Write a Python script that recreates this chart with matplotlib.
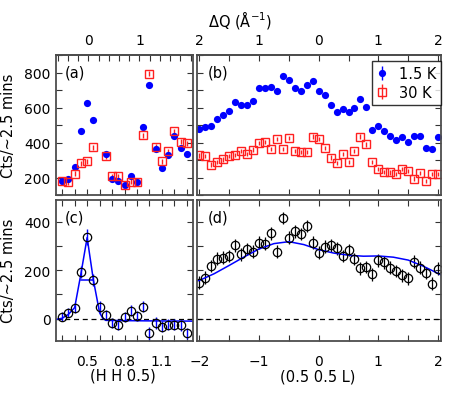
import numpy as np
import matplotlib
matplotlib.use('Agg')
import matplotlib.pyplot as plt
from matplotlib.ticker import MultipleLocator

plt.rcParams['font.family'] = 'DejaVu Sans'
plt.rcParams['font.size'] = 10

# (H H 0.5) scans, panel (a): 1.5 K and 30 K counts
h_a = [0.30, 0.35, 0.40, 0.45, 0.50, 0.55, 0.65, 0.70, 0.75, 0.80,
       0.85, 0.90, 0.95, 1.00, 1.05, 1.10, 1.15, 1.20, 1.25, 1.30]
cold_a = [179, 193, 259, 465, 627, 530, 335, 189, 179, 160,
          208, 175, 490, 729, 364, 255, 326, 440, 370, 335]
warm_a = [179, 173, 221, 282, 293, 373, 322, 208, 206, 160,
          177, 174, 442, 794, 377, 293, 350, 465, 404, 396]
err_a = 14

# panel (c): difference 1.5 K - 30 K
h_c = [0.30, 0.35, 0.40, 0.45, 0.50, 0.55, 0.60, 0.65, 0.70, 0.75, 0.80,
       0.85, 0.90, 0.95, 1.00, 1.05, 1.10, 1.15, 1.20, 1.25, 1.30]
diff_c = [8, 25, 44, 192, 338, 161, 47, 17, -17, -28, 8,
          33, 11, 50, -61, -19, -33, -25, -25, -28, -61]
err_c = [18, 20, 20, 26, 33, 24, 26, 20, 20, 20, 20,
         22, 20, 24, 26, 24, 22, 22, 22, 22, 24]
fit_h = [0.25, 0.30, 0.35, 0.40, 0.45, 0.50, 0.55, 0.60, 0.625, 0.65, 0.80, 1.00, 1.35]
fit_c = [-3, 2, 18, 46, 185, 335, 160, 25, 2, -7, -8, -9, -10]
fwhm_h = [0.45, 0.55]
fwhm_y = [158, 158]

# (0.5 0.5 L) scans, panels (b) and (d)
l_b = [-2.0, -1.9, -1.8, -1.7, -1.6, -1.5, -1.4, -1.3, -1.2, -1.1, -1.0,
       -0.9, -0.8, -0.7, -0.6, -0.5, -0.4, -0.3, -0.2, -0.1, 0.0,
       0.1, 0.2, 0.3, 0.4, 0.5, 0.6, 0.7, 0.8, 0.9, 1.0,
       1.1, 1.2, 1.3, 1.4, 1.5, 1.6, 1.7, 1.8, 1.9, 2.0]
cold_b = [480, 490, 493, 537, 556, 579, 630, 617, 617, 636, 710,
          714, 718, 697, 779, 760, 712, 697, 731, 750, 697,
          670, 617, 575, 594, 575, 598, 646, 604, 474, 493,
          465, 440, 417, 430, 404, 436, 440, 370, 364, 430]
warm_b = [326, 322, 274, 290, 303, 322, 328, 352, 334, 360, 398,
          404, 364, 421, 362, 427, 350, 347, 347, 434, 420,
          370, 314, 285, 333, 290, 350, 434, 389, 290, 248,
          233, 229, 221, 250, 236, 194, 228, 182, 221, 222]
err_b = 12
diff_d = [149, 170, 218, 248, 252, 259, 303, 266, 287, 277, 314,
          310, 352, 277, 415, 335, 360, 349, 383, 314, 273,
          297, 303, 290, 259, 284, 246, 208, 214, 183, 241,
          232, 211, 197, 179, 167, 236, 211, 188, 145, 207]
err_d = 26
fit_l = [-2.05, -2.0, -1.75, -1.5, -1.25, -1.0, -0.75, -0.5, -0.25, 0.0,
         0.25, 0.5, 0.75, 1.0, 1.25, 1.5, 1.75, 2.0, 2.05]
fit_d = [155, 158, 186, 220, 255, 288, 310, 318, 306, 285,
         271, 262, 258, 259, 254, 242, 217, 187, 181]

W, HT = 469.0, 402.0
fig = plt.figure(figsize=(W / 100, HT / 100), dpi=100)


def box(x0, y0, x1, y1):
    return [x0 / W, 1 - y1 / HT, (x1 - x0) / W, (y1 - y0) / HT]


ax_a = fig.add_axes(box(56, 56, 193, 196))
ax_b = fig.add_axes(box(197, 56, 441, 196))
ax_c = fig.add_axes(box(56, 201, 193, 341.5))
ax_d = fig.add_axes(box(197, 201, 441, 341.5))


def style(ax, top=True):
    for s in ax.spines.values():
        s.set_linewidth(1.3)
        s.set_color('0.3')
    ax.tick_params(which='both', direction='in', top=top, right=True,
                   color='0.2', width=0.8, length=4)
    ax.tick_params(axis='y', pad=3.8)
    ax.tick_params(axis='x', pad=9.5)


blue = '#0000ff'
red = '#ff2020'

# panel (a)
ax_a.errorbar(h_a, cold_a, yerr=err_a, fmt='o', color=blue, ms=5.2, mew=0,
              elinewidth=1, capsize=0)
ax_a.errorbar(h_a, warm_a, yerr=err_a, fmt='s', color=red, mfc='none', ms=6,
              mew=1, elinewidth=1, capsize=0)
# panel (b)
ax_b.errorbar(l_b, cold_b, yerr=err_b, fmt='o', color=blue, ms=5.2, mew=0,
              elinewidth=1, capsize=0, label='1.5 K')
ax_b.errorbar(l_b, warm_b, yerr=err_b, fmt='s', color=red, mfc='none', ms=6,
              mew=1, elinewidth=1, capsize=0, label='30 K')
# panel (c)
ax_c.axhline(0, color='k', lw=0.9, ls=(0, (4, 3)))
ax_c.errorbar(h_c, diff_c, yerr=err_c, fmt='none', ecolor=blue, elinewidth=1, capsize=0)
ax_c.plot(fit_h, fit_c, color=blue, lw=1.1)
ax_c.plot(fwhm_h, fwhm_y, color=blue, lw=1.1)
ax_c.plot(h_c, diff_c, 'o', mfc='none', mec='k', ms=6, mew=0.9)
# panel (d)
ax_d.axhline(0, color='k', lw=0.9, ls=(0, (4, 3)))
ax_d.errorbar(l_b, diff_d, yerr=err_d, fmt='o', color='k', mfc='none', ms=6,
              mew=0.9, elinewidth=0.9, capsize=0)
ax_d.plot(fit_l, fit_d, color=blue, lw=1.1)

for ax in (ax_a, ax_c):
    ax.set_xlim(0.25, 1.35)
    ax.set_xticks([0.5, 0.8, 1.1])
    ax.xaxis.set_minor_locator(MultipleLocator(0.1))
for ax in (ax_b, ax_d):
    ax.set_xlim(-2.04, 2.05)
    ax.set_xticks([-2, -1, 0, 1, 2])
    ax.xaxis.set_minor_locator(MultipleLocator(0.5))
for ax in (ax_a, ax_b):
    ax.set_ylim(100, 900)
    ax.set_yticks([200, 400, 600, 800])
    ax.yaxis.set_minor_locator(MultipleLocator(100))
    ax.set_xticklabels([])
for ax in (ax_c, ax_d):
    ax.set_ylim(-90, 490)
    ax.set_yticks([0, 200, 400])
    ax.yaxis.set_minor_locator(MultipleLocator(100))
for ax in (ax_b, ax_d):
    ax.set_yticklabels([])

style(ax_a, top=False)
style(ax_b, top=False)
style(ax_c)
style(ax_d)

# top Delta-Q axes
top_a = ax_a.secondary_xaxis('top', functions=(lambda h: (h - 0.51) / 0.41,
                                                lambda q: q * 0.41 + 0.51))
top_a.set_xticks([0, 1])
top_a.xaxis.set_minor_locator(MultipleLocator(0.2))
top_b = ax_b.secondary_xaxis('top')
top_b.set_xticks([-2, -1, 0, 1, 2], labels=['2', '1', '0', '1', '2'])
top_b.xaxis.set_minor_locator(MultipleLocator(0.5))
for t in (top_a, top_b):
    t.tick_params(which='both', direction='in', color='0.2', width=0.8,
                  length=4, pad=5.5)
    t.spines['top'].set_linewidth(1.3)
    t.spines['top'].set_color('0.3')

for ax, lab in ((ax_a, '(a)'), (ax_b, '(b)'), (ax_c, '(c)'), (ax_d, '(d)')):
    ax.text(0.065 if ax in (ax_a, ax_c) else 0.045, 0.88, lab,
            transform=ax.transAxes, fontsize=10.5, va='center')

leg = ax_b.legend(loc='upper right', bbox_to_anchor=(1.0, 0.957), borderaxespad=0,
                  handlelength=0.8, handletextpad=0.7, borderpad=0.35,
                  labelspacing=0.25, fancybox=False, fontsize=10.5)
leg.get_frame().set_edgecolor('k')
leg.get_frame().set_linewidth(1.0)

fig.text(240 / W, 1 - 20 / HT, 'ΔQ (Å$^{-1}$)', ha='center', va='center', fontsize=10.5)
fig.text(123 / W, 1 - 376 / HT, '(H H 0.5)', ha='center', va='center', fontsize=10.5)
fig.text(318 / W, 1 - 377 / HT, '(0.5 0.5 L)', ha='center', va='center', fontsize=10.5)
for yc in (126, 271):
    fig.text(9 / W, 1 - yc / HT, 'Cts/~2.5 mins', rotation=90, ha='center',
             va='center', fontsize=10.5)

fig.savefig('out.png', dpi=100)
